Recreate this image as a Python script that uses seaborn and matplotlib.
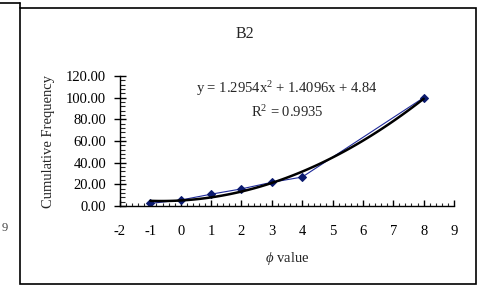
import matplotlib
matplotlib.use("Agg")
import matplotlib.pyplot as plt
import seaborn as sns
from matplotlib.lines import Line2D
from matplotlib.patches import Rectangle
from matplotlib.ticker import MultipleLocator, FormatStrFormatter

# Cumulative frequency per phi class.
phi = [-1, 0, 1, 2, 3, 4, 8]
cum_freq = [2.4, 5.5, 10.9, 15.8, 21.9, 26.7, 100.0]
title = "B2"
equation = "y = 1.2954x$^2$ + 1.4096x + 4.84"
r_squared = "R$^2$ = 0.9935"

sns.set_style("white")
plt.rcParams["font.family"] = ["Liberation Serif", "DejaVu Serif"]
plt.rcParams["mathtext.fontset"] = "custom"
plt.rcParams["mathtext.rm"] = "Liberation Serif"
plt.rcParams["mathtext.it"] = "Liberation Serif:italic"
plt.rcParams["axes.unicode_minus"] = False

fig = plt.figure(figsize=(4.79, 2.86), dpi=100)
ax = fig.add_axes([120 / 479, 1 - 206 / 286, 334 / 479, 130 / 286])

# Data series with markers (Excel style navy line).
sns.lineplot(x=phi, y=cum_freq, ax=ax, color="#1f2a9a", linewidth=0.8,
             marker="D", markersize=4, markerfacecolor="#0b1a6e",
             markeredgecolor="#0b1a6e")
# Polynomial trendline, order 2.
sns.regplot(x=phi, y=cum_freq, order=2, ci=None, scatter=False, ax=ax,
            line_kws={"color": "black", "linewidth": 1.8})

ax.set_xlim(-2, 9)
ax.set_ylim(0, 120)
ax.xaxis.set_major_locator(MultipleLocator(1))
ax.xaxis.set_minor_locator(MultipleLocator(0.2))
ax.yaxis.set_major_locator(MultipleLocator(20))
ax.yaxis.set_minor_locator(MultipleLocator(4))
ax.yaxis.set_major_formatter(FormatStrFormatter("%.2f"))

for side in ["top", "right"]:
    ax.spines[side].set_visible(False)
for side in ["left", "bottom"]:
    ax.spines[side].set_color("black")
    ax.spines[side].set_linewidth(1.0)

ax.tick_params(axis="y", which="major", direction="inout", length=8,
               width=1, pad=6, labelsize=10.5, colors="black")
ax.tick_params(axis="y", which="minor", direction="in", length=3.5, width=0.8)
ax.tick_params(axis="x", which="major", direction="in", length=4,
               width=1, pad=14, labelsize=10.5, colors="black")
ax.tick_params(axis="x", which="minor", direction="in", length=2.5, width=0.8)
ax.tick_params(left=True, bottom=True, which="both")

ax.set_xlabel(r"$\it{\phi}$ value", fontsize=10.5, labelpad=8)
ax.set_ylabel("Cumulative Frequency", fontsize=10.5, labelpad=8)

ax.text(0.5, 0.90, equation, transform=ax.transAxes, ha="center",
        va="center", fontsize=10.5)
ax.text(0.5, 0.72, r_squared, transform=ax.transAxes, ha="center",
        va="center", fontsize=10.5)

fig.text(245 / 479, 1 - 34 / 286, title, ha="center", va="center",
         fontsize=11.5)

# Chart frame and a sliver of the neighbouring chart on the left.
fig.add_artist(Rectangle((20 / 479, 2 / 286), 456 / 479, 276 / 286,
                         transform=fig.transFigure, fill=False,
                         edgecolor="black", linewidth=1.2))
fig.add_artist(Line2D([0, 20 / 479], [1 - 3 / 286, 1 - 3 / 286],
                      transform=fig.transFigure, color="black", linewidth=1.2))
fig.add_artist(Line2D([20 / 479, 20 / 479], [1 - 3 / 286, 1 - 8 / 286],
                      transform=fig.transFigure, color="black", linewidth=1.2))
fig.text(2 / 479, 1 - 228 / 286, "9", ha="left", va="center", fontsize=9,
         color="#444444")

fig.savefig("out.png", dpi=100)
